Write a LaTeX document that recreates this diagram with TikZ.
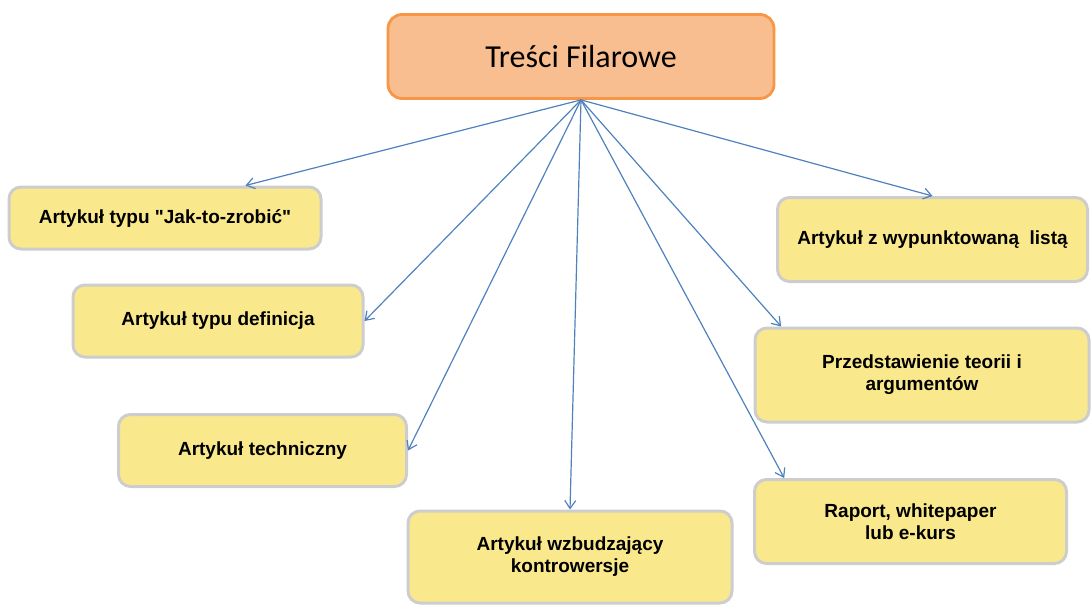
\documentclass[tikz,border=0pt]{standalone}
\usepackage{fontspec}
\setmainfont{Liberation Sans}[Ligatures=TeXOff]
\newfontfamily\titlefont{Carlito}
\usetikzlibrary{arrows.meta}

\definecolor{pillarFill}{RGB}{249,190,143}
\definecolor{pillarLine}{RGB}{247,150,70}
\definecolor{topicFill}{RGB}{250,233,140}
\definecolor{topicLine}{RGB}{205,205,205}
\definecolor{linkBlue}{RGB}{79,129,189}

\begin{document}
\begin{tikzpicture}[x=0.5pt, y=-0.5pt,
    pillarbox/.style={draw=pillarLine, fill=pillarFill, line width=1.4pt,
        rounded corners=7pt, minimum width=193pt, minimum height=42pt,
        font=\titlefont\fontsize{16}{19}\selectfont},
    topicbox/.style={draw=topicLine, fill=topicFill, line width=1.5pt,
        rounded corners=6pt, align=center, inner sep=0pt,
        font=\bfseries\fontsize{9.5}{11}\selectfont},
    link/.style={draw=linkBlue, line width=0.6pt,
        -{Straight Barb[length=4pt,width=5.5pt]}}]
    \useasboundingbox (0,0) rectangle (1091,606);

    \node[pillarbox] (pillar) at (581,56.5) {Treści Filarowe};

    % left column
    \node[topicbox, minimum width=156pt, minimum height=31pt] (howTo) at (165,218)
        {Artykuł typu "Jak-to-zrobić"};
    \node[topicbox, minimum width=145pt, minimum height=36pt] (definition) at (218,321)
        {Artykuł typu definicja};
    \node[topicbox, minimum width=144pt, minimum height=36pt] (technical) at (262.5,450.5)
        {Artykuł techniczny};
    \node[topicbox, minimum width=162pt, minimum height=46pt] (controversy) at (570,557)
        {Artykuł wzbudzający\\kontrowersje};

    % right column
    \node[topicbox, minimum width=155pt, minimum height=42pt] (bulletList) at (932.5,239.5)
        {Artykuł z wypunktowaną\ \ listą};
    \node[topicbox, minimum width=167pt, minimum height=47pt] (theory) at (922,375)
        {Przedstawienie teorii i\\argumentów};
    \node[topicbox, minimum width=156pt, minimum height=42pt] (report) at (910.5,521.5)
        {Raport, whitepaper\\lub e-kurs};

    % links from the pillar
    \draw[link] (pillar.south) -- (howTo.22);
    \draw[link] (pillar.south) -- (definition.east);
    \draw[link] (pillar.south) -- (technical.east);
    \draw[link] (pillar.south) -- (controversy.north);
    \draw[link] (pillar.south) -- (bulletList.north);
    \draw[link] (pillar.south) -- (theory.161);
    \draw[link] (pillar.south) -- (report.161);
\end{tikzpicture}
\end{document}
